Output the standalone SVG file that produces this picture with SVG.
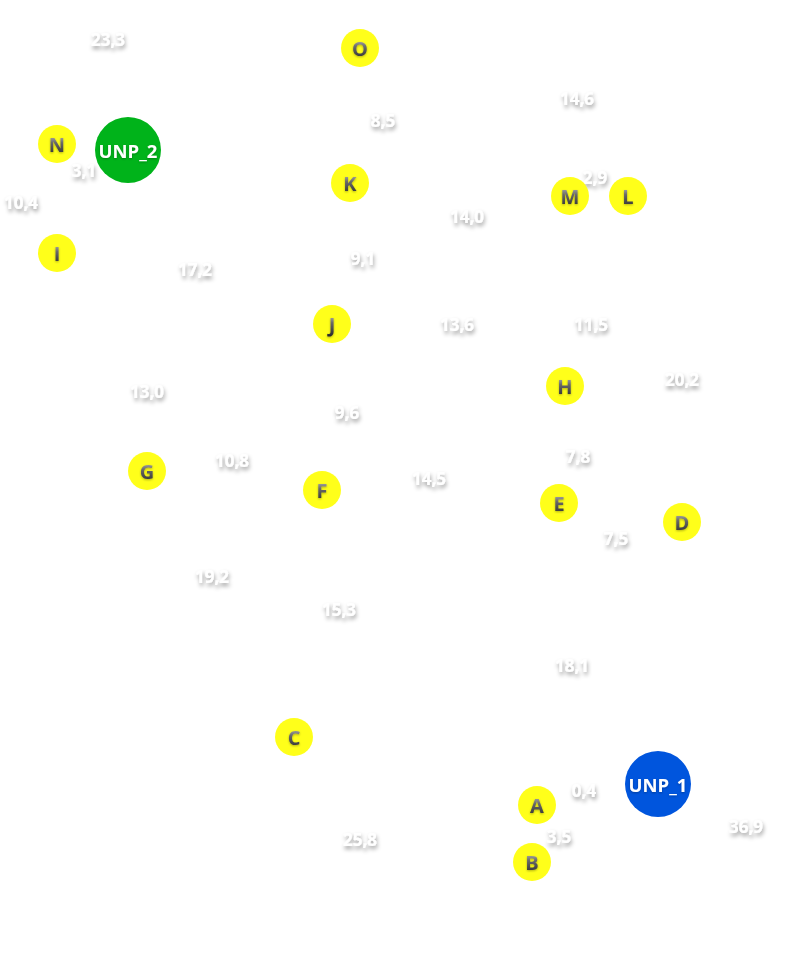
<svg xmlns="http://www.w3.org/2000/svg" width="797" height="962" viewBox="0 0 797 962">
<defs>
<linearGradient id="lg" x1="0" y1="0" x2="0" y2="1">
<stop offset="0" stop-color="#e0e0e0"/>
<stop offset="0.45" stop-color="#6a6a6a"/>
<stop offset="1" stop-color="#222"/>
</linearGradient>
<filter id="sh" x="-50%" y="-50%" width="200%" height="200%">
<feGaussianBlur in="SourceAlpha" stdDeviation="2"/>
<feOffset dx="1" dy="3" result="b"/>
<feFlood flood-color="#000" flood-opacity="0.4"/>
<feComposite in2="b" operator="in"/>
<feMerge><feMergeNode/><feMergeNode in="SourceGraphic"/></feMerge>
</filter>
<filter id="ns" x="-30%" y="-30%" width="160%" height="160%">
<feGaussianBlur in="SourceAlpha" stdDeviation="1"/>
<feOffset dx="0" dy="1" result="b"/>
<feFlood flood-color="#000" flood-opacity="0.3"/>
<feComposite in2="b" operator="in"/>
<feMerge><feMergeNode/><feMergeNode in="SourceGraphic"/></feMerge>
</filter>
</defs>
<style>
.y{fill:#ffff1a}
.t{font-family:"Open Sans","Liberation Sans",sans-serif;font-weight:bold;font-size:20px;text-anchor:middle;dominant-baseline:central;fill:url(#lg);filter:url(#ns)}
.u{font-family:"Open Sans","Liberation Sans",sans-serif;font-weight:bold;font-size:18.5px;text-anchor:middle;dominant-baseline:central;fill:#fff;filter:url(#ns)}
.l{font-family:"Open Sans","Liberation Sans",sans-serif;font-weight:bold;font-size:17px;text-anchor:middle;dominant-baseline:central;fill:#fff;filter:url(#sh)}
</style>
<rect width="797" height="962" fill="#fff"/>
<g id="connectors">
<text class="l" x="108" y="39">23,3</text>
<text class="l" x="577" y="98">14,6</text>
<text class="l" x="383" y="120">8,5</text>
<text class="l" x="84" y="170">3,1</text>
<text class="l" x="595" y="177">2,9</text>
<text class="l" x="21" y="202">10,4</text>
<text class="l" x="467" y="216">14,0</text>
<text class="l" x="363" y="258">9,1</text>
<text class="l" x="195" y="269">17,2</text>
<text class="l" x="457" y="324">13,6</text>
<text class="l" x="591" y="324">11,5</text>
<text class="l" x="682" y="379">20,2</text>
<text class="l" x="147" y="391">13,0</text>
<text class="l" x="347" y="412">9,6</text>
<text class="l" x="578" y="456">7,8</text>
<text class="l" x="232" y="460">10,8</text>
<text class="l" x="429" y="478">14,5</text>
<text class="l" x="616" y="538">7,5</text>
<text class="l" x="212" y="576">19,2</text>
<text class="l" x="339" y="609">15,3</text>
<text class="l" x="572" y="665">18,1</text>
<text class="l" x="584" y="790">0,4</text>
<text class="l" x="559" y="836">3,5</text>
<text class="l" x="360" y="839">25,8</text>
<text class="l" x="746" y="826">36,9</text>
</g>
<g id="O"><circle class="y" cx="360" cy="48" r="19"/><text class="t" x="360" y="48">O</text></g>
<g id="N"><circle class="y" cx="57" cy="144" r="19"/><text class="t" x="57" y="144">N</text></g>
<g id="UNP_2"><circle cx="128" cy="150" r="33" fill="#00b31a"/><text class="u" x="128" y="150">UNP_2</text></g>
<g id="K"><circle class="y" cx="350" cy="183" r="19"/><text class="t" x="350" y="183">K</text></g>
<g id="M"><circle class="y" cx="570" cy="196" r="19"/><text class="t" x="570" y="196">M</text></g>
<g id="L"><circle class="y" cx="628" cy="196" r="19"/><text class="t" x="628" y="196">L</text></g>
<g id="I"><circle class="y" cx="57" cy="253" r="19"/><text class="t" x="57" y="253">I</text></g>
<g id="J"><circle class="y" cx="332" cy="324" r="19"/><text class="t" x="332" y="324">J</text></g>
<g id="H"><circle class="y" cx="565" cy="386" r="19"/><text class="t" x="565" y="386">H</text></g>
<g id="G"><circle class="y" cx="147" cy="471" r="19"/><text class="t" x="147" y="471">G</text></g>
<g id="F"><circle class="y" cx="322" cy="490" r="19"/><text class="t" x="322" y="490">F</text></g>
<g id="E"><circle class="y" cx="559" cy="503" r="19"/><text class="t" x="559" y="503">E</text></g>
<g id="D"><circle class="y" cx="682" cy="522" r="19"/><text class="t" x="682" y="522">D</text></g>
<g id="C"><circle class="y" cx="294" cy="737" r="19"/><text class="t" x="294" y="737">C</text></g>
<g id="UNP_1"><circle cx="658" cy="784" r="33" fill="#0055dd"/><text class="u" x="658" y="784">UNP_1</text></g>
<g id="A"><circle class="y" cx="537" cy="805" r="19"/><text class="t" x="537" y="805">A</text></g>
<g id="B"><circle class="y" cx="532" cy="862" r="19"/><text class="t" x="532" y="862">B</text></g>
</svg>
